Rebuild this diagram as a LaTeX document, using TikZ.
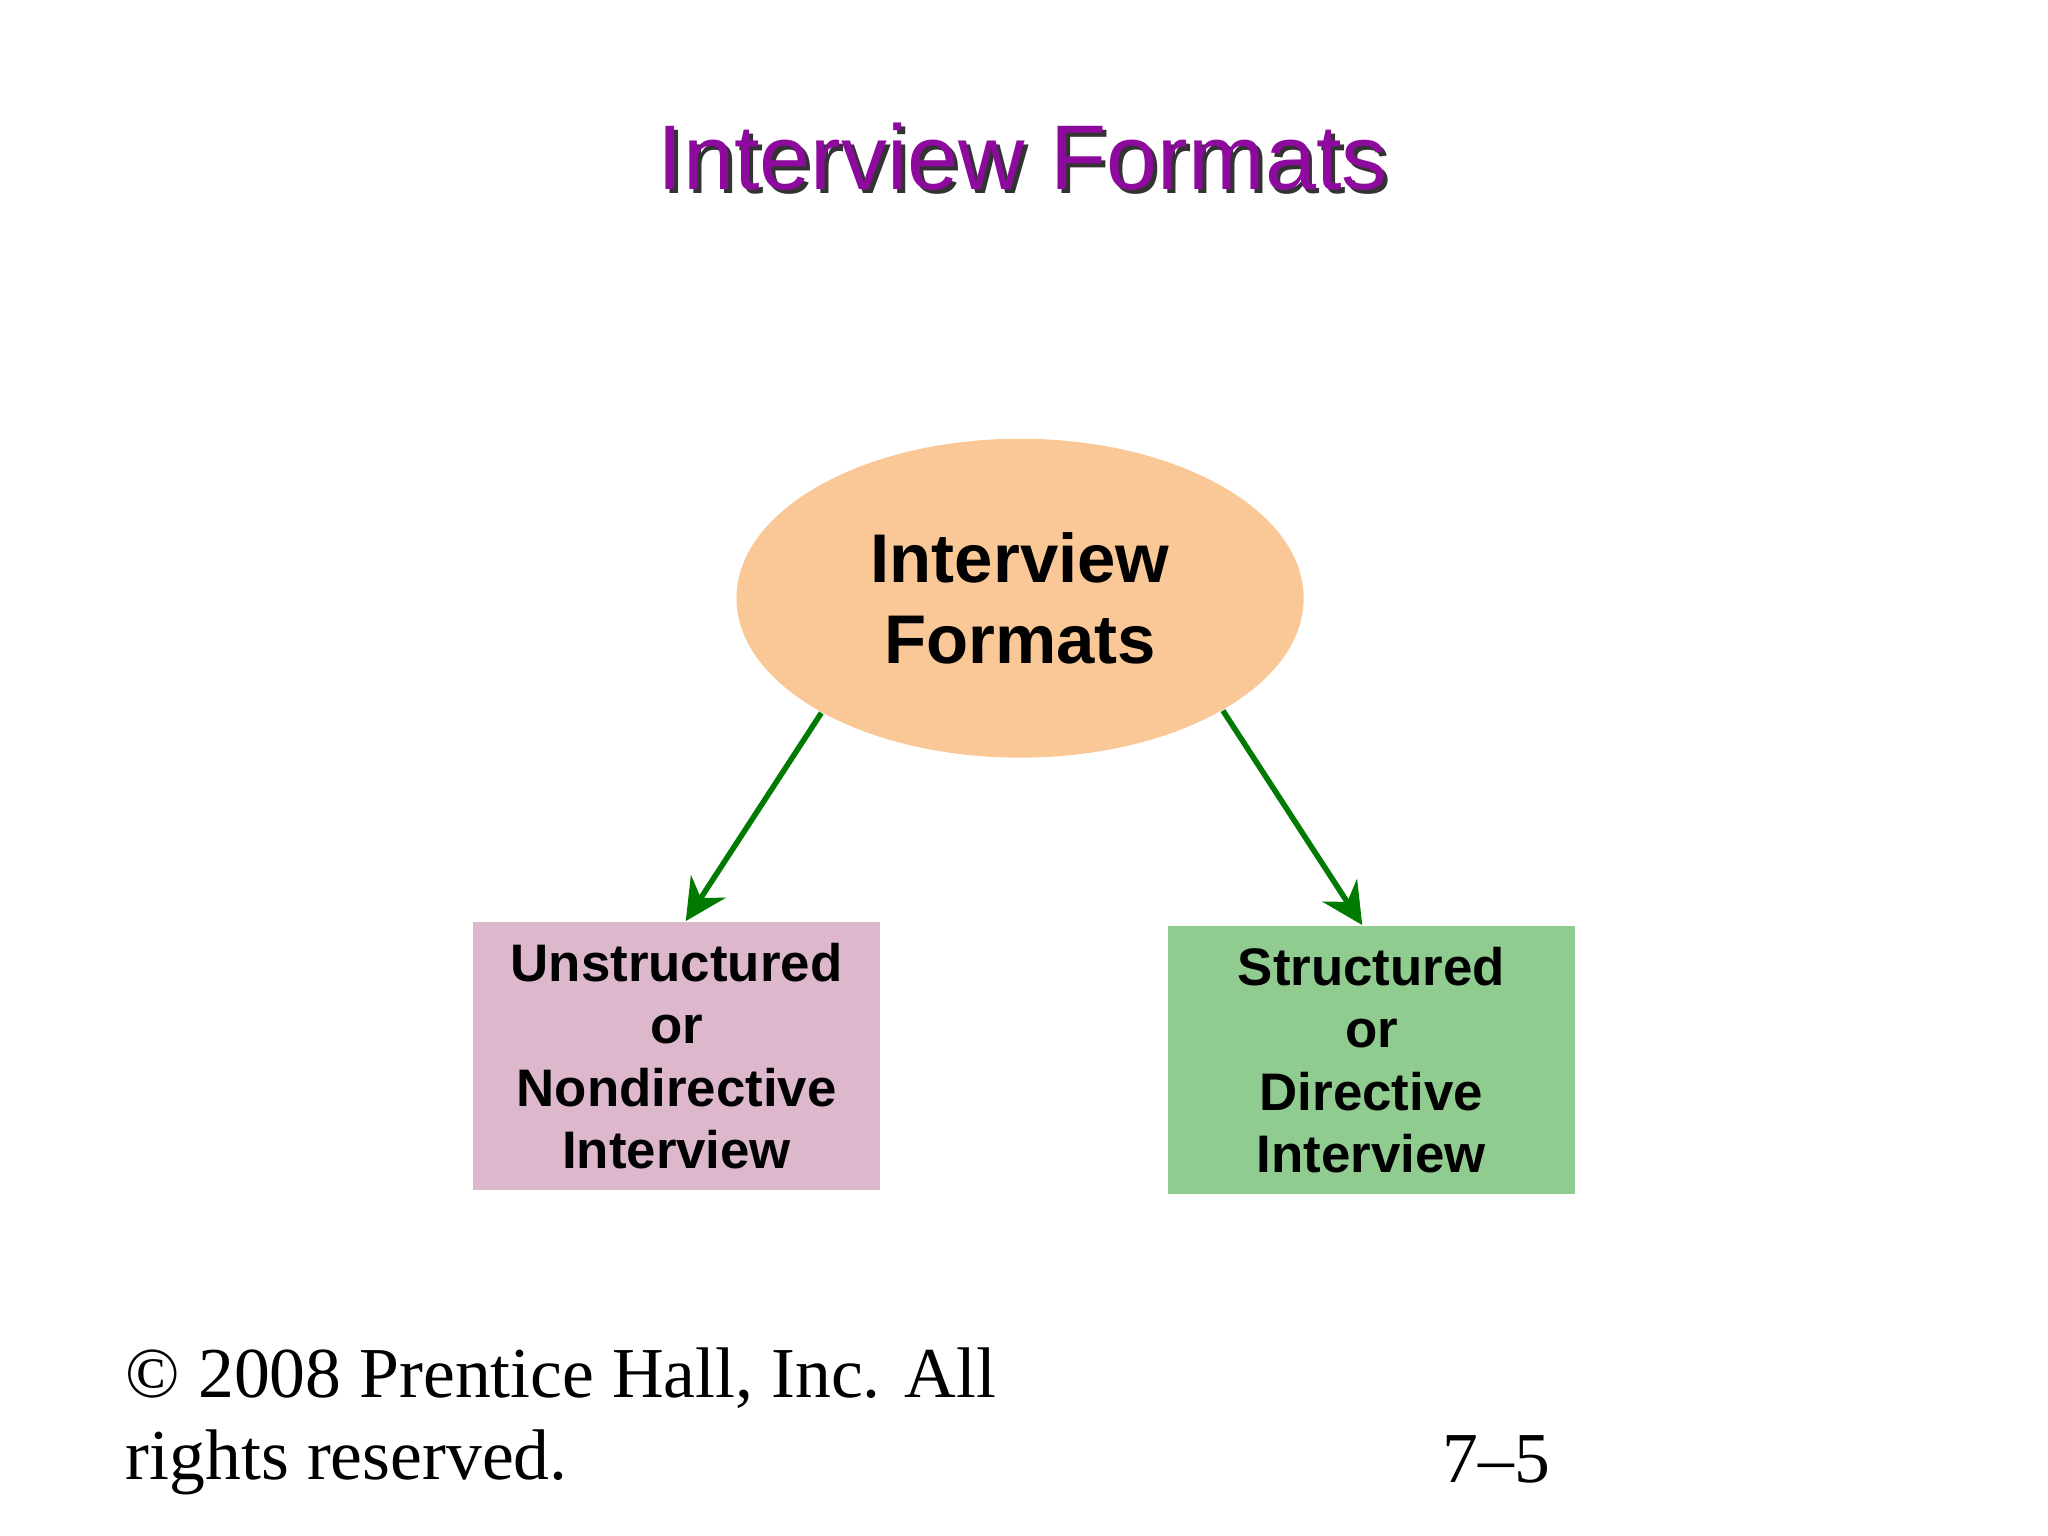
\documentclass[tikz,border=0pt]{standalone}
\usepackage{fontspec}
\setmainfont{Liberation Serif}
\setsansfont{Liberation Sans}
\usetikzlibrary{shapes.geometric,arrows.meta}
\definecolor{ttl}{HTML}{8E0A9E}
\definecolor{peach}{HTML}{F9C896}
\definecolor{pinkbox}{HTML}{DDB8CC}
\definecolor{greenbox}{HTML}{90CB90}
\definecolor{arrg}{HTML}{007A00}
\tikzset{
  box/.style={draw=none,minimum width=3.12cm,minimum height=2.05cm,align=center,
    font=\sffamily\bfseries\fontsize{11.5pt}{13.6pt}\selectfont},
  arr/.style={draw=arrg,line width=1.2pt,-{Stealth[length=9pt,width=9pt,inset=3pt]}}
}
\begin{document}
\begin{tikzpicture}[x=0.01cm,y=-0.01cm]
\useasboundingbox[fill=white] (0,0) rectangle (1568,1176);
\node[text=black!80,font=\sffamily\fontsize{20pt}{24pt}\selectfont] at (786,123) {Interview Formats};
\node (title) [text=ttl,font=\sffamily\fontsize{20pt}{24pt}\selectfont] at (783,120) {Interview Formats};
\node (ell) [ellipse,fill=peach,minimum width=4.34cm,minimum height=2.44cm,inner sep=0pt,align=center,
  font=\sffamily\bfseries\fontsize{15pt}{17.5pt}\selectfont] at (781,458) {Interview\\Formats};
\node (lbox) [box,fill=pinkbox] at (518,808.5) {Unstructured\\or\\Nondirective\\Interview};
\node (rbox) [box,fill=greenbox] at (1050,811.5) {Structured\\or\\Directive\\Interview};
\draw[arr] (ell.210.5) -- ([xshift=2]lbox.north);
\draw[arr] (ell.-29.6) -- ([xshift=-2]rbox.north);
\node (copy) [anchor=west,align=left,font=\fontsize{15.6pt}{17.8pt}\selectfont] at (84,1088) {© 2008 Prentice Hall, Inc. All\\rights reserved.};
\node (pg) [anchor=base west,font=\fontsize{15.6pt}{17.8pt}\selectfont] at (1092,1135) {7–5};
\end{tikzpicture}
\end{document}
